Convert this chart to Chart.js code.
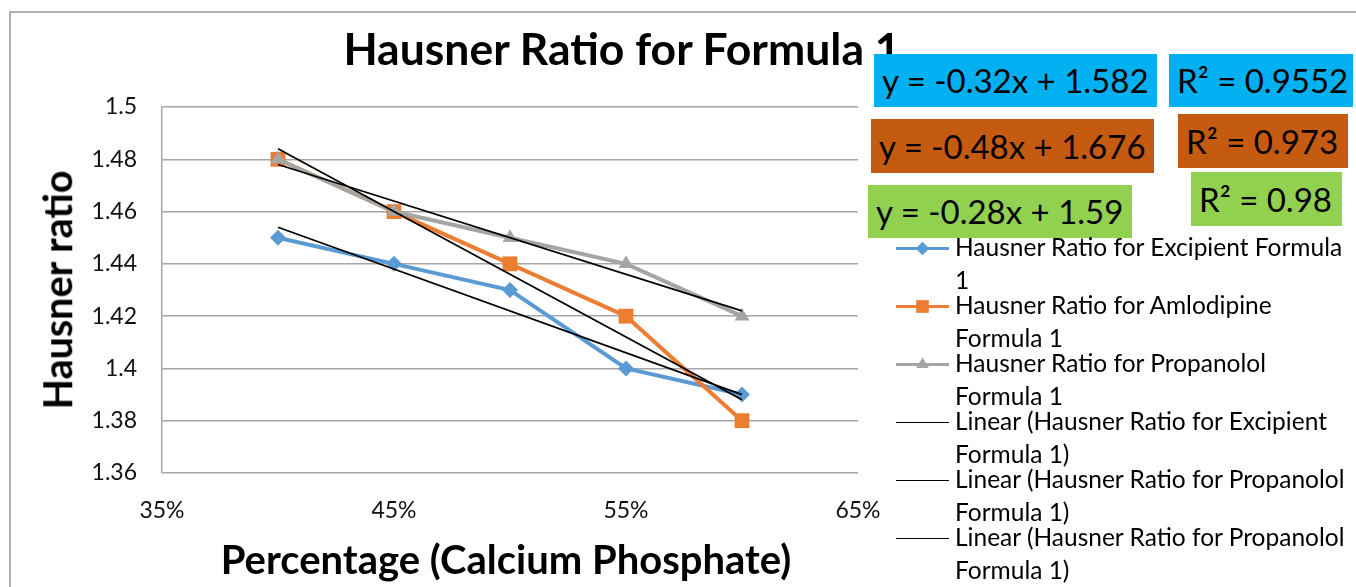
<!DOCTYPE html>
<html>
<head>
<meta charset="utf-8">
<script src="https://cdn.jsdelivr.net/npm/chart.js@4.4.1/dist/chart.umd.min.js"></script>
<style>
  body { margin: 0; background: #fff; font-family: Lato, "Open Sans", sans-serif; }
  #wrap { position: relative; width: 1356px; height: 587px; overflow: hidden; }
  #frame { position: absolute; left: 9px; top: 11px; width: 1400px; height: 700px; border: 2px solid #b0b0b0; }
  canvas { position: absolute; left: 0; top: 0; }
  .txt { position: absolute; white-space: nowrap; line-height: 1; color: #000; }
  .box { position: absolute; color: #000; font-size: 33px; line-height: 1; display: flex; align-items: center; padding-left: 8px; box-sizing: border-box; white-space: nowrap; }
  .leg { position: absolute; left: 896px; font-size: 24.5px; line-height: 33px; color: #000; }
  .leg .sample { position: absolute; left: 0; width: 53px; }
  .leg .label { position: absolute; left: 59px; top: 0; white-space: nowrap; }
</style>
</head>
<body>
<div id="wrap">
  <div id="frame"></div>
  <canvas id="chart" width="1356" height="587"></canvas>
</div>
<script>
// data
const percentages = [0.40, 0.45, 0.50, 0.55, 0.60];
const excipient   = [1.45, 1.44, 1.43, 1.40, 1.39];
const amlodipine  = [1.48, 1.46, 1.44, 1.42, 1.38];
const propanolol  = [1.48, 1.46, 1.45, 1.44, 1.42];

// trendline end points (at 40% and 60%)
const trendX          = [0.40, 0.60];
const trendExcipient  = [1.454, 1.390];
const trendAmlodipine = [1.484, 1.388];
const trendPropanolol = [1.478, 1.422];

const xTicks = [0.35, 0.45, 0.55, 0.65];
const yTicks = [1.36, 1.38, 1.40, 1.42, 1.44, 1.46, 1.48, 1.50];

const legendLabels = [
  ["Hausner Ratio for Excipient Formula", "1"],
  ["Hausner Ratio for Amlodipine", "Formula 1"],
  ["Hausner Ratio for Propanolol", "Formula 1"],
  ["Linear (Hausner Ratio for Excipient", "Formula 1)"],
  ["Linear (Hausner Ratio for Propanolol", "Formula 1)"],
  ["Linear (Hausner Ratio for Propanolol", "Formula 1)"]
];

const equations = [
  { text: "y = -0.32x + 1.582", bg: "#00b0f0", x: 874, y: 54, w: 283, h: 53 },
  { text: "R² = 0.9552",        bg: "#00b0f0", x: 1169, y: 54, w: 184, h: 53 },
  { text: "y = -0.48x + 1.676", bg: "#c55a11", x: 871, y: 119, w: 283, h: 54 },
  { text: "R² = 0.973",         bg: "#c55a11", x: 1178, y: 114, w: 170, h: 54 },
  { text: "y = -0.28x + 1.59",  bg: "#92d050", x: 868, y: 185, w: 264, h: 53 },
  { text: "R² = 0.98",          bg: "#92d050", x: 1191, y: 172, w: 151, h: 54 }
];

function pts(xs, ys) {
  return xs.map((x, i) => ({ x: x, y: ys[i] }));
}

function series(label, ys, color, style, radius, order) {
  return {
    label: label,
    data: pts(percentages, ys),
    borderColor: color,
    backgroundColor: color,
    borderWidth: 4,
    pointStyle: style,
    pointRadius: radius,
    pointBorderWidth: 0,
    order: order
  };
}

function trend(label, ys) {
  return {
    label: label,
    data: pts(trendX, ys),
    borderColor: "#000",
    borderWidth: 1.8,
    pointRadius: 0,
    order: 0
  };
}

const datasets = [
  series(legendLabels[0].join(" "), excipient, "#5b9bd5", "rectRot", 8, 3),
  series(legendLabels[1].join(" "), amlodipine, "#ed7d31", "rect", 10.5, 2),
  series(legendLabels[2].join(" "), propanolol, "#a5a5a5", "triangle", 8.5, 1),
  trend(legendLabels[3].join(" "), trendExcipient),
  trend(legendLabels[4].join(" "), trendAmlodipine),
  trend(legendLabels[5].join(" "), trendPropanolol)
];

new Chart(document.getElementById("chart"), {
  type: "line",
  data: { datasets: datasets },
  options: {
    responsive: false,
    animation: false,
    devicePixelRatio: 1,
    layout: { padding: { top: 107, right: 498, bottom: 0, left: 0 } },
    plugins: {
      legend: { display: false },
      tooltip: { enabled: false },
      title: { display: false }
    },
    scales: {
      x: {
        type: "linear",
        min: 0.35,
        max: 0.65,
        afterBuildTicks: s => { s.ticks = xTicks.map(v => ({ value: v })); },
        afterFit: s => { s.height = 114; },
        grid: { display: false },
        border: { display: false },
        ticks: {
          font: { family: "Lato", size: 23 },
          color: "#111",
          padding: 16,
          maxRotation: 0,
          callback: v => Math.round(v * 100) + "%"
        }
      },
      y: {
        min: 1.36,
        max: 1.5,
        afterBuildTicks: s => { s.ticks = yTicks.map(v => ({ value: v })); },
        afterFit: s => { s.width = 162; },
        grid: { color: "#a6a6a6", lineWidth: 1.5, drawTicks: false },
        border: { display: true, color: "#a6a6a6", width: 1.5 },
        ticks: {
          font: { family: "Lato", size: 23 },
          color: "#111",
          padding: 25,
          callback: v => String(+v.toFixed(2))
        }
      }
    }
  }
});

const wrap = document.getElementById("wrap");

function addText(text, cx, cy, size, bold, rotate) {
  const d = document.createElement("div");
  d.className = "txt";
  d.textContent = text;
  d.style.fontSize = size + "px";
  d.style.fontWeight = bold ? "bold" : "normal";
  d.style.left = cx + "px";
  d.style.top = cy + "px";
  d.style.transform = "translate(-50%, -50%)" + (rotate ? " rotate(-90deg)" : "");
  wrap.appendChild(d);
}

addText("Hausner Ratio for Formula 1", 622, 48, 44.5, true, false);
addText("Hausner ratio", 57, 290, 39.5, true, true);
addText("Percentage (Calcium Phosphate)", 506, 559, 40, true, false);

equations.forEach(e => {
  const d = document.createElement("div");
  d.className = "box";
  d.textContent = e.text;
  d.style.background = e.bg;
  d.style.left = e.x + "px";
  d.style.top = e.y + "px";
  d.style.width = e.w + "px";
  d.style.height = e.h + "px";
  wrap.appendChild(d);
});

// legend built from the datasets
datasets.forEach((ds, i) => {
  const item = document.createElement("div");
  item.className = "leg";
  item.style.top = (230 + 58 * i) + "px";
  const sample = document.createElement("canvas");
  sample.width = 53; sample.height = 20;
  sample.className = "sample";
  sample.style.top = "8px";
  const c = sample.getContext("2d");
  c.strokeStyle = ds.borderColor;
  c.lineWidth = ds.pointRadius ? 3 : 1;
  c.beginPath(); c.moveTo(0, 10.5); c.lineTo(53, 10.5); c.stroke();
  if (ds.pointRadius) {
    c.fillStyle = ds.backgroundColor;
    Chart.helpers.drawPoint(c, { pointStyle: ds.pointStyle, radius: ds.pointRadius * 0.85, borderWidth: 0 }, 26.5, 10.5);
  }
  item.appendChild(sample);
  const lab = document.createElement("div");
  lab.className = "label";
  lab.innerHTML = legendLabels[i][0] + "<br>" + legendLabels[i][1];
  item.appendChild(lab);
  wrap.appendChild(item);
});
</script>
</body>
</html>
